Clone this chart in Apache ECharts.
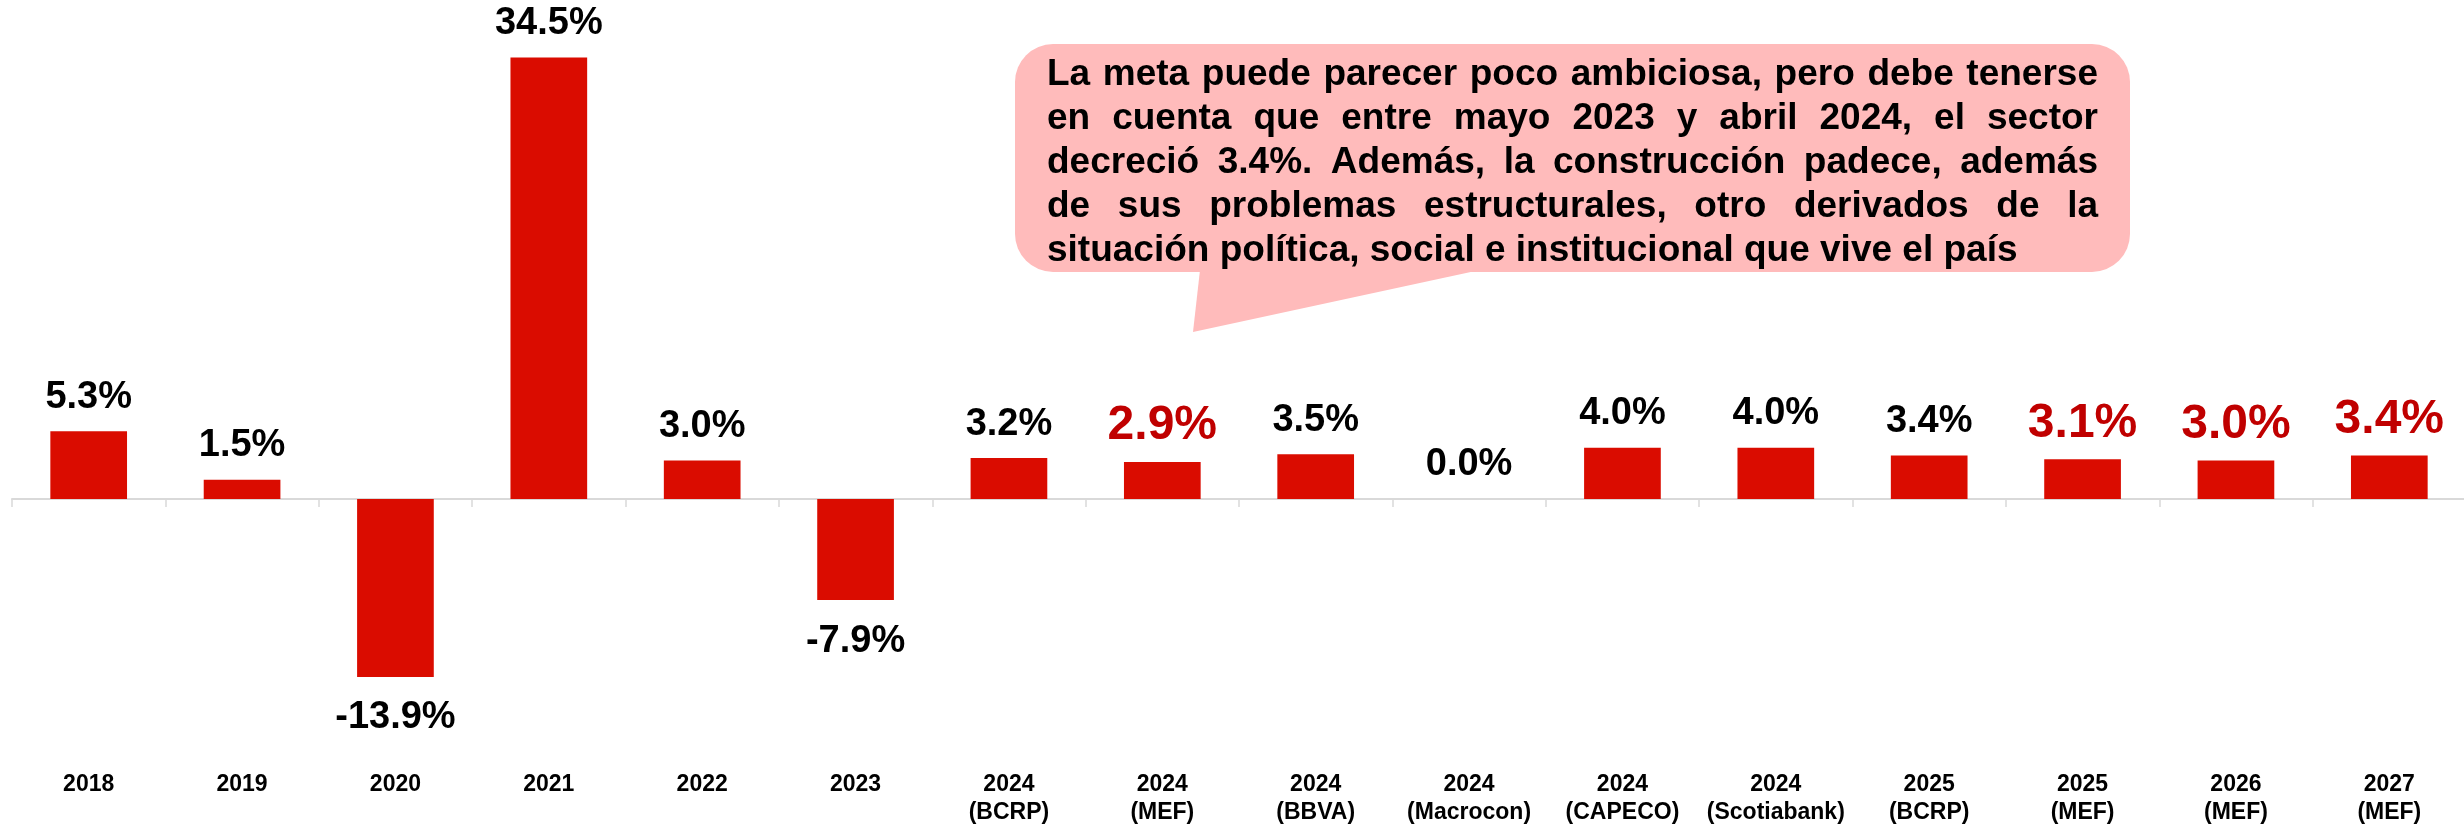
<!DOCTYPE html>
<html><head><meta charset="utf-8">
<script src="https://cdn.jsdelivr.net/npm/echarts@6/dist/echarts.min.js"></script>
<style>html,body{margin:0;padding:0;background:#fff}#c{width:2464px;height:829px}</style>
</head><body><div id="c"></div>
<script>
// ---- data ----
const categories = ['2018','2019','2020','2021','2022','2023',
  '2024\n(BCRP)','2024\n(MEF)','2024\n(BBVA)','2024\n(Macrocon)','2024\n(CAPECO)',
  '2024\n(Scotiabank)','2025\n(BCRP)','2025\n(MEF)','2026\n(MEF)','2027\n(MEF)'];
const growth = [5.3, 1.5, -13.9, 34.5, 3.0, -7.9, 3.2, 2.9, 3.5, 0.0, 4.0, 4.0, 3.4, 3.1, 3.0, 3.4];
const calloutLines = [
  'La meta puede parecer poco ambiciosa, pero debe tenerse',
  'en cuenta que entre mayo 2023 y  abril 2024, el sector',
  'decreció 3.4%. Además, la construcción padece, además',
  'de sus problemas estructurales, otro derivados de la',
  'situación política, social e institucional que vive el país'
];

// ---- styles ----
const FONT = '"Liberation Sans", Arial, Helvetica, sans-serif';
const BAR = '#DA0C00';
const RED_LABEL = '#C00000';

const barData = growth.map((v, i) => {
  const mef = categories[i].indexOf('(MEF)') >= 0;
  return {
    value: v,
    label: {
      position: v < 0 ? 'bottom' : 'top',
      color: mef ? RED_LABEL : '#000',
      fontSize: mef ? 48 : 38,
      distance: v < 0 ? 22 : (mef ? 12 : 15)
    }
  };
});

// ---- callout (justified text) ----
const cFontSize = 37;
const ctx = document.createElement('canvas').getContext('2d');
ctx.font = 'bold ' + cFontSize + 'px ' + FONT;
const textLeft = 1047, textRight = 2098, firstBaseline = 88, lineGap = 44;
const graphics = [
  { type: 'rect', shape: { x: 1015, y: 44, width: 1115, height: 228, r: 38 }, style: { fill: '#FFBBBB' }, z: 10 },
  { type: 'polygon', shape: { points: [[1200, 270], [1480, 270], [1193, 332]] }, style: { fill: '#FFBBBB' }, z: 10 }
];
calloutLines.forEach((line, li) => {
  const cy = firstBaseline + li * lineGap - 13;
  const justify = li < calloutLines.length - 1;
  const words = line.split(/\s+/);
  const widths = words.map(w => ctx.measureText(w).width);
  const total = widths.reduce((a, b) => a + b, 0);
  const gap = justify ? (textRight - textLeft - total) / (words.length - 1) : ctx.measureText(' ').width;
  let x = textLeft;
  words.forEach((w, wi) => {
    graphics.push({
      type: 'text', z: 11,
      style: { x: x, y: cy, text: w, fill: '#000', fontSize: cFontSize, fontWeight: 'bold', fontFamily: FONT, align: 'left', verticalAlign: 'middle' }
    });
    x += widths[wi] + gap;
  });
});

const chart = echarts.init(document.getElementById('c'), null, { renderer: 'canvas' });
chart.setOption({
  animation: false,
  backgroundColor: '#fff',
  grid: { left: 12, width: 2454, top: 38.2, height: 640, containLabel: false, outerBoundsMode: 'none' },
  xAxis: [{
    type: 'category',
    data: categories,
    position: 'bottom',
    axisLine: { onZero: true, lineStyle: { color: '#D9D9D9', width: 2 } },
    axisTick: { show: true, length: 8, lineStyle: { color: '#D9D9D9', width: 1.5 } },
    axisLabel: { show: false },
    splitLine: { show: false }
  }, {
    type: 'category',
    data: categories,
    position: 'bottom',
    axisLine: { show: false, onZero: false },
    axisTick: { show: false },
    axisLabel: {
      interval: 0, margin: 92, color: '#000', fontFamily: FONT, fontWeight: 'bold',
      fontSize: 23, lineHeight: 28, verticalAlign: 'top', hideOverlap: false
    },
    splitLine: { show: false }
  }],
  yAxis: { type: 'value', min: -14, max: 36, show: false, splitLine: { show: false } },
  series: [{
    type: 'bar',
    xAxisIndex: 0,
    data: barData,
    barWidth: '50%',
    itemStyle: { color: BAR },
    label: {
      show: true, fontFamily: FONT, fontWeight: 'bold',
      formatter: p => p.value.toFixed(1) + '%'
    }
  }],
  graphic: graphics
});
</script>
</body></html>
